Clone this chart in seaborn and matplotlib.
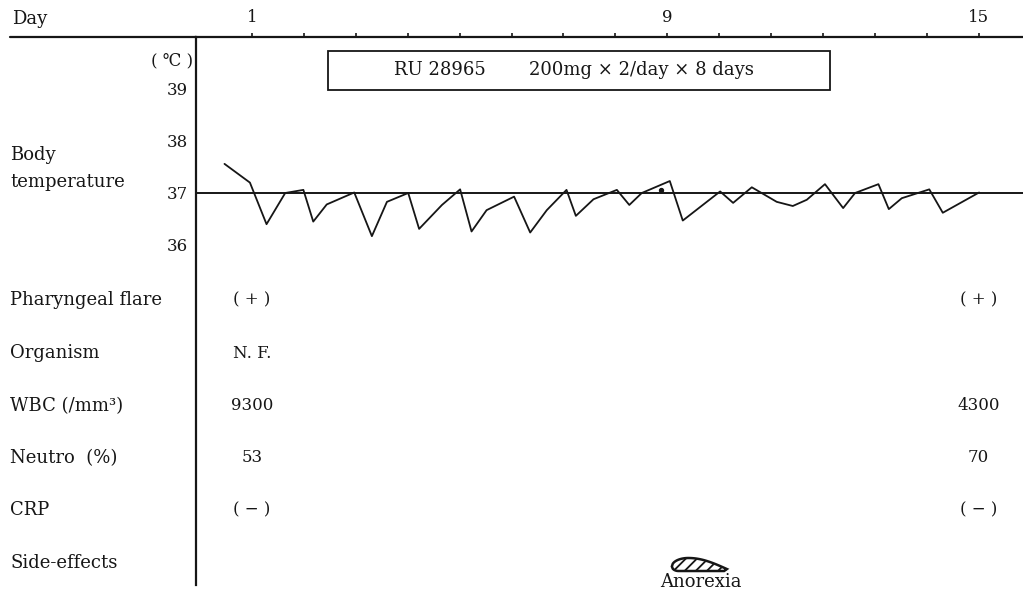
####
#imports
####

import numpy as np
import pandas as pd
import matplotlib.pyplot as plt
from matplotlib.lines import Line2D
from matplotlib.patches import Rectangle, Polygon
import seaborn as sns

####
#data
####

# body temperature (day, degC)
days = [0.47, 0.96, 1.28, 1.64, 1.99, 2.18, 2.44, 2.97, 3.31, 3.60, 4.01, 4.22,
        4.66, 5.01, 5.23, 5.52, 6.05, 6.36, 6.68, 7.06, 7.24, 7.58, 8.03, 8.27,
        8.51, 9.05, 9.30, 10.02, 10.27, 10.63, 11.11, 11.42, 11.69, 12.04, 12.39,
        12.62, 13.07, 13.27, 13.52, 14.05, 14.31, 15.01]
temps = [37.56, 37.20, 36.40, 37.00, 37.06, 36.45, 36.78, 37.01, 36.17, 36.83, 37.00, 36.31,
         36.77, 37.07, 36.26, 36.67, 36.93, 36.24, 36.67, 37.06, 36.56, 36.88, 37.06, 36.77,
         37.00, 37.23, 36.47, 37.03, 36.81, 37.11, 36.83, 36.75, 36.87, 37.17, 36.71,
         37.00, 37.17, 36.69, 36.90, 37.07, 36.62, 37.01]
dot_day, dot_temp = 8.89, 37.05

day_ticks = list(range(1, 16))
day_labels = {1: "1", 9: "9", 15: "15"}
temp_ticks = [36, 37, 38, 39]
baseline_temp = 37

dosing_start, dosing_end = 2.46, 12.14
dosing_text = ["RU 28965", "200mg \u00d7 2/day \u00d7 8 days"]

row_labels = ["Pharyngeal flare", "Organism", "WBC (/mm\u00b3)", "Neutro  (%)", "CRP", "Side-effects"]
values_day1 = ["( + )", "N. F.", "9300", "53", "( \u2212 )"]
values_day15 = ["( + )", "", "4300", "70", "( \u2212 )"]

side_effect = "Anorexia"
side_start, side_end = 9.09, 10.15

####
#layout helpers
####

W, H = 1023, 594
PX_PER_DAY = 51.9
PX_PER_DEG = 52.0
DAY1_X, T37_Y = 252, 193


def px(x, y):
    return x / W, 1 - y / H


def day_at(x):
    return 1 + (x - DAY1_X) / PX_PER_DAY


def temp_at(y):
    return 37 + (T37_Y - y) / PX_PER_DEG


def main():
    sns.set_theme(style="white")
    plt.rcParams['font.family'] = ['DejaVu Serif', 'DejaVu Sans']
    ink = "#161616"
    fs_lab = 13
    fs_val = 12

    fig = plt.figure(figsize=(W / 100, H / 100), dpi=100)
    ax = fig.add_axes([196 / W, 9 / H, (W - 196) / W, (585 - 37) / H])
    ax.set_xlim(day_at(196), day_at(W))
    ax.set_ylim(temp_at(585), temp_at(37))

    df = pd.DataFrame({"day": days, "temp": temps})
    sns.lineplot(data=df, x="day", y="temp", color=ink, lw=1.3, ax=ax, sort=False)
    ax.scatter([dot_day], [dot_temp], s=8, color=ink, zorder=3)
    ax.axhline(baseline_temp, color=ink, lw=1.4)

    # axes styling
    for s in ["right", "bottom"]:
        ax.spines[s].set_visible(False)
    for s in ["left", "top"]:
        ax.spines[s].set_color(ink)
        ax.spines[s].set_linewidth(1.6)
    ax.xaxis.tick_top()
    ax.set_xticks(day_ticks)
    ax.set_xticklabels([day_labels.get(d, "") for d in day_ticks])
    ax.set_yticks(temp_ticks)
    ax.tick_params(axis="x", direction="out", length=3, width=1.2, pad=5,
                   labelsize=fs_val, colors=ink)
    ax.tick_params(axis="y", direction="out", length=4, width=1.2, pad=2,
                   labelsize=fs_val, colors=ink)
    ax.set_xlabel("")
    ax.set_ylabel("")
    ax.grid(False)

    # top rule extends left over the label column
    x0, y0 = px(10, 37)
    x1, _ = px(196, 37)
    fig.add_artist(Line2D([x0, x1], [y0, y0], color=ink, lw=1.6))

    fig.text(*px(12, 19), "Day", fontsize=fs_lab, color=ink, va="center")
    fig.text(*px(193, 61), "( \u2103 )", fontsize=fs_val, color=ink, va="center", ha="right")
    fig.text(*px(10, 155), "Body", fontsize=fs_lab, color=ink, va="center")
    fig.text(*px(10, 182), "temperature", fontsize=fs_lab, color=ink, va="center")

    # dosing box
    box_top, box_bot = temp_at(51), temp_at(90)
    ax.add_patch(Rectangle((dosing_start, box_bot), dosing_end - dosing_start,
                           box_top - box_bot, fill=False, ec=ink, lw=1.3))
    box_mid = (box_top + box_bot) / 2
    ax.text(day_at(440), box_mid, dosing_text[0], ha="center", va="center",
            fontsize=fs_lab, color=ink)
    ax.text(day_at(641), box_mid, dosing_text[1], ha="center", va="center",
            fontsize=fs_lab, color=ink)

    # clinical rows
    row_y = [300, 353, 406, 458, 510, 563]
    for lab, yy in zip(row_labels, row_y):
        fig.text(*px(10, yy), lab, fontsize=fs_lab, color=ink, va="center")
    for v1, v15, yy in zip(values_day1, values_day15, row_y):
        ax.text(1, temp_at(yy), v1, ha="center", va="center", fontsize=fs_val, color=ink)
        ax.text(15, temp_at(yy), v15, ha="center", va="center", fontsize=fs_val, color=ink)

    # side-effect bar (hatched teardrop): rounded left end, tapered right tip
    t = np.linspace(0, 1, 60)
    xs = side_start + (side_end - side_start) * t
    base = temp_at(571)
    h = temp_at(558) - base
    tp = 0.3
    f = np.where(t < tp, 0.35 + 0.65 * np.sqrt(np.clip(1 - ((tp - t) / tp) ** 2, 0, 1)),
                 0.15 + 0.85 * np.cos(np.pi / 2 * (t - tp) / (1 - tp)))
    g = np.where(t < 0.12, 0.35 * (1 - np.sqrt(np.clip(1 - ((0.12 - t) / 0.12) ** 2, 0, 1))), 0.0)
    g = np.where(t > 0.95, 0.15 * (t - 0.95) / 0.05, g)
    top = base + h * f
    bot = base + h * g
    pts = np.column_stack([np.r_[xs, xs[::-1]], np.r_[top, bot[::-1]]])
    plt.rcParams['hatch.linewidth'] = 1.3
    ax.add_patch(Polygon(pts, closed=True, fill=False, ec=ink, lw=1.8, hatch="///",
                         clip_on=False))
    ax.text(day_at(701), temp_at(582), side_effect, ha="center", va="center",
            fontsize=fs_lab, color=ink, clip_on=False)

    fig.savefig("out.png", dpi=100)
    plt.close(fig)


if __name__ == '__main__':
    main()
